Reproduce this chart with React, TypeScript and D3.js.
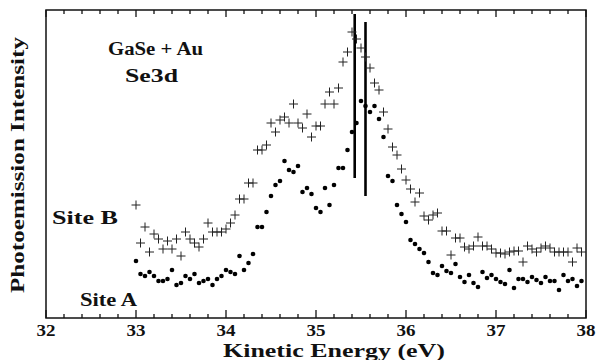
import React from 'react';
import * as d3 from 'd3';

// energy grid of the spectra (eV): first point and step
const startEnergy = 33.0;
const energyStep = 0.05;

// Site A (dots), photoemission intensity, arbitrary units
const siteA = [
  57, 44, 42, 46, 42, 37, 37, 39, 48, 33, 35, 42, 39, 44, 35, 37, 39, 33, 39, 42,
  48, 46, 44, 62, 48, 55, 64, 91, 91, 106, 122, 133, 137, 157, 148, 146, 152, 126, 130, 124,
  110, 106, 130, 113, 133, 150, 150, 168, 186, 195, 217, 212, 206, 212, 199, 181, 142, 137, 113, 104,
  96, 78, 74, 69, 65, 56, 45, 43, 52, 47, 45, 54, 41, 36, 43, 35, 31, 46, 40, 43,
  39, 36, 34, 48, 30, 39, 39, 36, 41, 38, 35, 41, 37, 37, 28, 43, 37, 39, 32, 37,
];

// Site B (crosses)
const siteB = [
  113, 75, 91, 66, 84, 79, 69, 77, 69, 79, 62, 86, 79, 75, 71, 79, 95, 86, 86, 86,
  89, 95, 103, 119, 119, 135, 135, 168, 168, 173, 195, 186, 198, 201, 195, 214, 195, 190, 204, 181,
  192, 192, 214, 226, 214, 230, 256, 266, 286, 279, 270, 261, 250, 235, 228, 206, 189, 171, 163, 149,
  138, 129, 116, 125, 102, 98, 103, 105, 87, 87, 63, 80, 80, 71, 69, 72, 81, 72, 72, 69,
  65, 65, 64, 66, 67, 67, 56, 72, 69, 66, 70, 72, 70, 66, 66, 66, 66, 56, 70, 66,
];

// the two vertical bars near the peak: energy, top, bottom
const barEnergies = [35.43, 35.55];
const barTops = [304, 296];
const barBottoms = [140, 122];

const xTicks = [32, 33, 34, 35, 36, 37, 38];

const W = 598;
const H = 360;
const left = 46, right = 586, top = 10, bottom = 318;
const serif = "'Liberation Serif', 'Times New Roman', Times, Tinos, 'Nimbus Roman', 'DejaVu Serif', serif";

export default function App() {
  const x = d3.scaleLinear().domain([32, 38]).range([left, right]);
  const y = d3.scaleLinear().domain([0, 308]).range([bottom, top]);
  const energy = (i: number) => startEnergy + energyStep * i;
  const minorTicks = d3.range(32, 38.001, 0.2).map(v => Math.round(v * 10) / 10);

  return (
    <svg width={W} height={H} style={{ position: 'absolute', left: 0, top: 0, background: '#fff' }}>
      <g fontFamily={serif} fontWeight={700} fill="#111">
        {xTicks.map(t => (
          <text key={'l' + t} x={x(t)} y={336} textAnchor="middle" fontSize={16}
            textLength={19} lengthAdjust="spacingAndGlyphs">{t}</text>
        ))}
        <text x={334} y={357} textAnchor="middle" fontSize={19} textLength={222} lengthAdjust="spacingAndGlyphs">Kinetic Energy (eV)</text>
        <text transform={`translate(24,${(top + bottom) / 2 + 1}) rotate(-90)`} textAnchor="middle"
          fontSize={19} textLength={256} lengthAdjust="spacingAndGlyphs">Photoemission Intensity</text>
        <text x={108} y={55} fontSize={18} textLength={95} lengthAdjust="spacingAndGlyphs">GaSe + Au</text>
        <text x={125} y={82} fontSize={18} textLength={53} lengthAdjust="spacingAndGlyphs">Se3d</text>
        <text x={52} y={224} fontSize={18} textLength={66} lengthAdjust="spacingAndGlyphs">Site  B</text>
        <text x={80} y={306} fontSize={18} textLength={57} lengthAdjust="spacingAndGlyphs">Site  A</text>
      </g>

      <rect x={left} y={top} width={right - left} height={bottom - top}
        fill="none" stroke="#111" strokeWidth={1.5} />

      {minorTicks.map(t => {
        const major = Number.isInteger(t);
        return (
          <g key={'t' + t} stroke="#111" strokeWidth={1.3}>
            <line x1={x(t)} x2={x(t)} y1={bottom} y2={bottom - (major ? 8 : 4)} />
            <line x1={x(t)} x2={x(t)} y1={top} y2={top + (major ? 7 : 4)} />
          </g>
        );
      })}

      {barEnergies.map((e, i) => (
        <line key={'b' + i} x1={x(e)} x2={x(e)} y1={y(barTops[i])} y2={y(barBottoms[i])}
          stroke="#000" strokeWidth={2.6} />
      ))}

      {siteB.map((v, i) => {
        const cx = x(energy(i)), cy = y(v);
        return (
          <path key={'p' + i} d={`M${cx - 4.5},${cy}H${cx + 4.5}M${cx},${cy - 4.5}V${cy + 4.5}`}
            stroke="#222" strokeWidth={1} fill="none" />
        );
      })}

      {siteA.map((v, i) => (
        <circle key={'d' + i} cx={x(energy(i))} cy={y(v)} r={2.3} fill="#000" />
      ))}
    </svg>
  );
}
